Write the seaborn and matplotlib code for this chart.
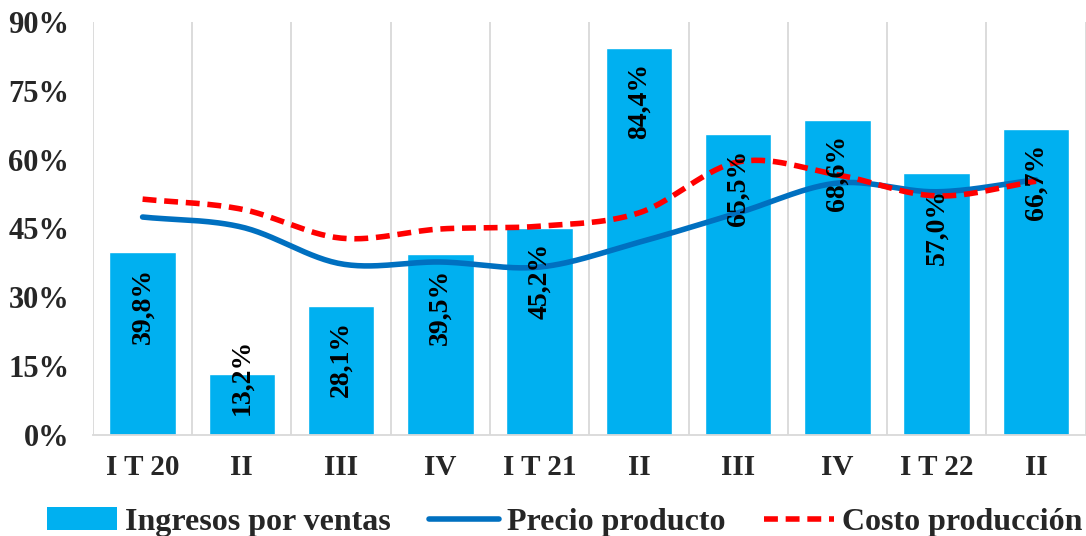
import numpy as np
import pandas as pd
import matplotlib
matplotlib.use("Agg")
import matplotlib.pyplot as plt
import seaborn as sns
from matplotlib.patches import Patch
from matplotlib.lines import Line2D

# Data
quarters = ["I T 20", "II", "III", "IV", "I T 21", "II ", "III ", "IV ", "I T 22", "II  "]
ingresos = [39.8, 13.2, 28.1, 39.5, 45.2, 84.4, 65.5, 68.6, 57.0, 66.7]
precio = [47.5, 45.3, 37.3, 37.7, 36.6, 42.0, 48.4, 54.9, 53.0, 55.6]
costo = [51.4, 49.2, 42.9, 44.9, 45.5, 48.4, 59.5, 56.7, 52.1, 55.3]

sns.set_theme(style="white")
plt.rcParams["font.family"] = ["Liberation Serif", "DejaVu Serif"]
plt.rcParams["font.weight"] = "bold"

df = pd.DataFrame({"trimestre": quarters, "ingresos": ingresos})

fig = plt.figure(figsize=(10.86, 5.36), dpi=100)
ax = fig.add_axes([0.0856, 0.1884, 0.914, 0.7706])

sns.barplot(data=df, x="trimestre", y="ingresos", color="#00B0F0",
            saturation=1, width=0.67, ax=ax, zorder=2)


def smooth(vals, n=30):
    # Catmull-Rom spline through the points (like Excel's smoothed line)
    p = np.asarray(vals, dtype=float)
    x = np.arange(len(p), dtype=float)
    pp = np.concatenate([[2 * p[0] - p[1]], p, [2 * p[-1] - p[-2]]])
    xs, ys = [], []
    for i in range(len(p) - 1):
        p0, p1, p2, p3 = pp[i], pp[i + 1], pp[i + 2], pp[i + 3]
        t = np.linspace(0, 1, n, endpoint=False)
        y = 0.5 * ((2 * p1) + (-p0 + p2) * t + (2 * p0 - 5 * p1 + 4 * p2 - p3) * t ** 2
                   + (-p0 + 3 * p1 - 3 * p2 + p3) * t ** 3)
        xs.append(x[i] + t)
        ys.append(y)
    xs.append([x[-1]])
    ys.append([p[-1]])
    return np.concatenate(xs), np.concatenate(ys)


dash = (0, (2.5, 1.4))
xp, yp = smooth(precio)
ax.plot(xp, yp, color="#0070C0", lw=4, zorder=3, solid_capstyle="round")
xc, yc = smooth(costo)
ax.plot(xc, yc, color="#FF0000", lw=4, ls=dash, zorder=4)

# bar labels
for i, v in enumerate(ingresos):
    lab = f"{v:.1f}%".replace(".", ",")
    top = v - 3.3
    if top - 16 < 4.4:
        ax.text(i, 4.4, lab, rotation=90, ha="center", va="bottom",
                fontsize=20, fontweight="bold", color="black", zorder=5)
    else:
        ax.text(i, top, lab, rotation=90, ha="center", va="top",
                fontsize=20, fontweight="bold", color="black", zorder=5)

ax.set_ylim(0, 90)
ax.set_xlim(-0.5, len(quarters) - 0.5)
ax.set_yticks(range(0, 91, 15))
ax.set_yticklabels([f"{t}%" for t in range(0, 91, 15)])
ax.set_xticks(range(len(quarters)))
ax.set_xticklabels([q.strip() for q in quarters])
ax.tick_params(axis="both", colors="#262626", length=0)
ax.tick_params(axis="x", labelsize=21, pad=14)
ax.tick_params(axis="y", labelsize=22, pad=17)
for lbl in ax.get_xticklabels() + ax.get_yticklabels():
    lbl.set_fontweight("bold")
ax.set_xlabel("")
ax.set_ylabel("")

for b in np.arange(-0.5, len(quarters), 1.0):
    ax.axvline(b, color="#D9D9D9", lw=1.3, zorder=0)

for s in ["top", "right", "left"]:
    ax.spines[s].set_visible(False)
ax.spines["bottom"].set_color("#D9D9D9")
ax.spines["bottom"].set_linewidth(1.3)

handles = [
    Patch(facecolor="#00B0F0", edgecolor="none"),
    Line2D([0], [0], color="#0070C0", lw=4),
    Line2D([0], [0], color="#FF0000", lw=4, ls=dash),
]
leg = fig.legend(handles, ["Ingresos por ventas", "Precio producto", "Costo producción"],
                 loc="lower center", bbox_to_anchor=(0.52, -0.055), ncol=3, frameon=False,
                 prop={"size": 23, "weight": "bold"}, handlelength=2.2, handleheight=0.7,
                 columnspacing=1.2, handletextpad=0.25)
for t in leg.get_texts():
    t.set_color("#262626")

fig.savefig("out.png", dpi=100)
